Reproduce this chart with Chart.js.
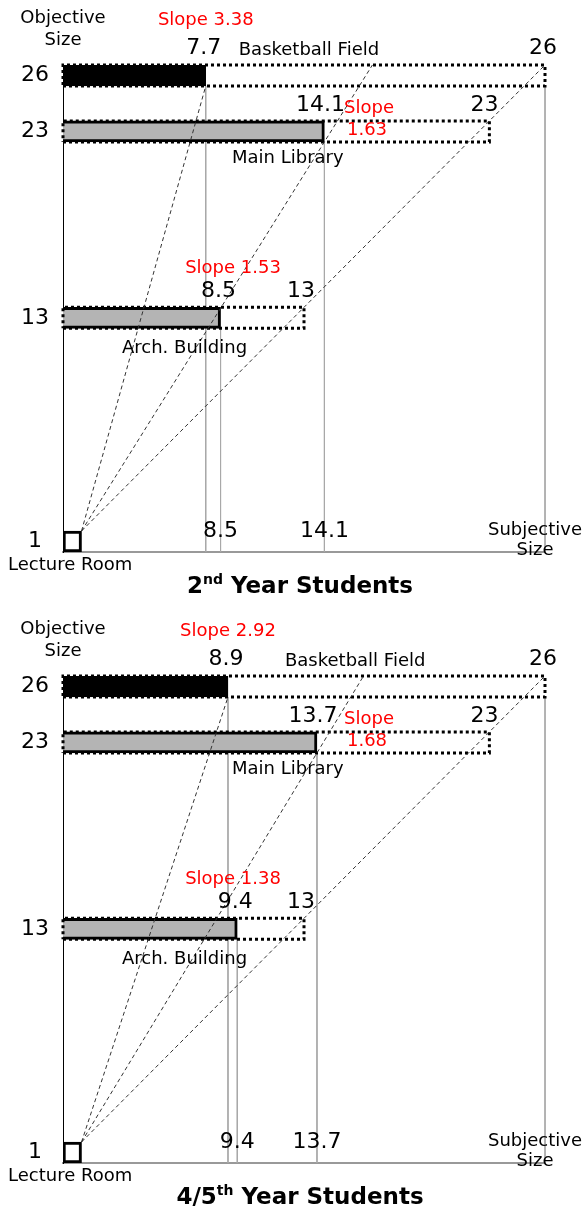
<!DOCTYPE html>
<html><head><meta charset="utf-8">
<script src="https://cdn.jsdelivr.net/npm/chart.js@4/dist/chart.umd.min.js"></script>
<style>html,body{margin:0;padding:0;background:#fff;}canvas{display:block;}</style>
</head><body>
<canvas id="c1" width="585" height="611"></canvas>
<canvas id="c2" width="585" height="600"></canvas>
<script>
// ---------- data ----------
const places = ['Basketball Field', 'Main Library', 'Arch. Building'];
const objectiveSize = [26, 23, 13];
const subjective2nd = [7.7, 14.1, 8.5];
const subjective45 = [8.9, 13.7, 9.4];
const slopes2nd = [3.38, 1.63, 1.53];
const slopes45 = [2.92, 1.68, 1.38];
const originPlace = 'Lecture Room';
const originSize = 1;
const objectiveTicks = [1, 13, 23, 26];
const subjectiveTicks2nd = [8.5, 14.1];
const subjectiveTicks45 = [9.4, 13.7];
const title2nd = ['2', 'nd', ' Year Students'];
const title45 = ['4/5', 'th', ' Year Students'];

// ---------- styling ----------
const FONT = '"DejaVu Sans", Verdana, sans-serif';
const H = 0.563;          // half bar height in value units
const GRAY = '#b4b4b4';

function buildPanel(canvasId, subj, slopes, xTicks, title, bottomPad, nameGap) {
  const maxObj = Math.max(...objectiveSize);
  const datasets = [];
  const o0 = originSize, oy = originSize + H;
  const libEndX = o0 + (subj[1] - o0) * ((maxObj + H) - oy) / ((objectiveSize[1] - H) - oy);
  const rays = [
    [{x: o0, y: oy}, {x: subj[0], y: objectiveSize[0] - H}],
    [{x: o0, y: oy}, {x: libEndX, y: maxObj + H}],
    [{x: o0, y: oy}, {x: maxObj, y: maxObj + H}]
  ];
  rays.forEach(r => datasets.push({type: 'line', data: r, borderColor: '#333', borderWidth: 1,
    borderDash: [4, 3], pointRadius: 0, clip: false, order: 0}));
  objectiveSize.forEach(o => datasets.push({type: 'line', order: 1, clip: false,
    data: [{x: 0, y: o - H}, {x: o, y: o - H}, {x: o, y: o + H}, {x: 0, y: o + H}, {x: 0, y: o - H}],
    borderColor: '#000', borderWidth: 3, borderDash: [3, 3], borderCapStyle: 'butt',
    borderJoinStyle: 'miter', pointRadius: 0, fill: false}));
  const barData = subj.map((s, i) => ({x: [0, s], y: objectiveSize[i]}));
  barData.push({x: [0, originSize], y: originSize});
  datasets.push({type: 'bar', indexAxis: 'y', grouped: false, order: 2, data: barData,
    barThickness: 21, borderWidth: 3, borderColor: '#000',
    borderSkipped: ctx => ctx.dataIndex === subj.length ? false : 'start',
    backgroundColor: ['#000', GRAY, GRAY, '#fff']});
  const vlines = subj.map((s, i) => [s, objectiveSize[i]]).concat([[maxObj, maxObj]]);
  vlines.forEach(([x, o]) => datasets.push({type: 'line', order: 3, clip: false,
    data: [{x: x, y: o - H}, {x: x, y: originSize - H}], borderColor: '#a8a8a8',
    borderWidth: 1, pointRadius: 0}));

  const textPlugin = {
    id: 'texts',
    afterDraw(chart) {
      const ctx = chart.ctx, xs = chart.scales.x, ys = chart.scales.y, ca = chart.chartArea;
      const px = v => xs.getPixelForValue(v), py = v => ys.getPixelForValue(v);
      const L = '18px ' + FONT, N = '22px ' + FONT;
      const y0 = py(objectiveSize[0]), y1 = py(objectiveSize[1]), y2 = py(objectiveSize[2]);
      const items = [
        ['Objective', px(0), y0 - 57, L, '#000', 'center'],
        ['Size', px(0), y0 - 35, L, '#000', 'center'],
        ['Slope ' + slopes[0].toFixed(2), px(subj[0]), y0 - 55, L, '#f00', 'center'],
        [String(subj[0]), px(subj[0]) - 2, y0 - 27, N, '#000', 'center'],
        [places[0], px(subj[0]) + nameGap, y0 - 25, L, '#000', 'left'],
        [String(objectiveSize[0]), px(objectiveSize[0]) - 2, y0 - 27, N, '#000', 'center'],
        [String(subj[1]), px(subj[1]) - 4, y1 - 26, N, '#000', 'center'],
        ['Slope', ca.left + 306, y1 - 23, L, '#f00', 'center'],
        [slopes[1].toFixed(2), ca.left + 304, y1 - 1, L, '#f00', 'center'],
        [String(objectiveSize[1]), px(objectiveSize[1]) - 5, y1 - 26, N, '#000', 'center'],
        [places[1], ca.left + 169, y1 + 27, L, '#000', 'left'],
        ['Slope ' + slopes[2].toFixed(2), ca.left + 170, y2 - 49, L, '#f00', 'center'],
        [String(subj[2]), px(subj[2]) - 2, y2 - 27, N, '#000', 'center'],
        [String(objectiveSize[2]), px(objectiveSize[2]) - 3, y2 - 27, N, '#000', 'center'],
        [places[2], ca.left + 59, y2 + 31, L, '#000', 'left'],
        [originPlace, 8, py(originSize) + 24, L, '#000', 'left'],
        ['Subjective', ca.right - 10, ca.bottom - 22, L, '#000', 'center'],
        ['Size', ca.right - 10, ca.bottom - 2, L, '#000', 'center']
      ];
      // subjective-size tick labels of the x axis, drawn just above the axis line
      xs.ticks.forEach(t => items.push([String(t.value), px(t.value), ca.bottom - 21, N, '#000', 'center']));
      ctx.save();
      ctx.textBaseline = 'middle';
      items.forEach(([t, x, y, f, c, a]) => {
        ctx.font = f; ctx.fillStyle = c; ctx.textAlign = a; ctx.fillText(t, x, y);
      });
      const big = 'bold 23px ' + FONT, small = 'bold 14px ' + FONT;
      ctx.font = big; const w1 = ctx.measureText(title[0]).width, w3 = ctx.measureText(title[2]).width;
      ctx.font = small; const w2 = ctx.measureText(title[1]).width;
      let x = 300 - (w1 + w2 + w3) / 2; const ty = ca.bottom + 35;
      ctx.fillStyle = '#000'; ctx.textAlign = 'left';
      ctx.font = big; ctx.fillText(title[0], x, ty); x += w1;
      ctx.font = small; ctx.fillText(title[1], x, ty - 7); x += w2;
      ctx.font = big; ctx.fillText(title[2], x, ty);
      ctx.restore();
    }
  };

  return new Chart(document.getElementById(canvasId), {
    type: 'bar',
    data: {datasets},
    options: {
      responsive: false, animation: false, devicePixelRatio: 1, events: [],
      layout: {padding: {left: 8, right: 40, top: 65, bottom: bottomPad}},
      plugins: {legend: {display: false}, tooltip: {enabled: false}},
      scales: {
        x: {type: 'linear', min: 0, max: maxObj, offset: false,
          grid: {display: false, drawTicks: false, offset: false}, border: {display: true, color: '#999', width: 2},
          afterBuildTicks: s => { s.ticks = xTicks.map(v => ({value: v})); },
          afterFit: s => { s.height = 20; },
          ticks: {display: false}},
        y: {type: 'linear', min: originSize - H, max: maxObj + H, offset: false,
          grid: {display: false, drawTicks: false, offset: false}, border: {display: true, color: '#000', width: 1},
          afterBuildTicks: s => { s.ticks = objectiveTicks.map(v => ({value: v})); },
          afterFit: s => { s.width = 55; },
          ticks: {font: {family: FONT, size: 22}, color: '#000', padding: 14, crossAlign: 'center',
            callback: v => String(v)}}
      }
    },
    plugins: [textPlugin]
  });
}

buildPanel('c1', subjective2nd, slopes2nd, subjectiveTicks2nd, title2nd, 39, 33);
buildPanel('c2', subjective45, slopes45, subjectiveTicks45, title45, 28, 57);
</script>
</body></html>
